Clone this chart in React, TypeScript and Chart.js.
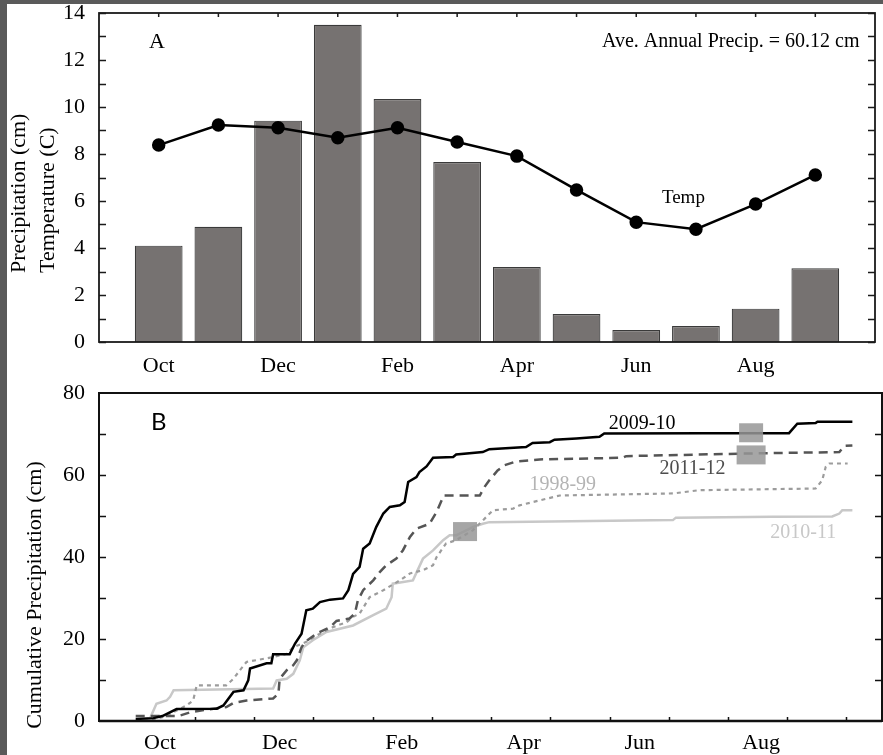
import React, { useEffect, useRef } from 'react';
import { Chart, registerables } from 'chart.js';
Chart.register(...registerables);

// ---------- Panel A data ----------
const months = ['Oct', 'Nov', 'Dec', 'Jan', 'Feb', 'Mar', 'Apr', 'May', 'Jun', 'Jul', 'Aug', 'Sep'];
const precipCm = [4.1, 4.9, 9.42, 13.5, 10.34, 7.66, 3.19, 1.19, 0.51, 0.68, 1.42, 3.14];
const tempC = [8.38, 9.23, 9.12, 8.69, 9.12, 8.51, 7.91, 6.47, 5.1, 4.8, 5.87, 7.11];
const tickLabelsA = ['Oct', 'Dec', 'Feb', 'Apr', 'Jun', 'Aug'];
const tickPosA = [1, 3, 5, 7, 9, 11];
const yTicksA = [0, 2, 4, 6, 8, 10, 12, 14];

// ---------- Panel B data (x = months since Oct 1) ----------
const tickLabelsB = ['Oct', 'Dec', 'Feb', 'Apr', 'Jun', 'Aug'];
const tickPosB = [0.41, 2.43, 4.49, 6.55, 8.51, 10.56];
const monthBoundsB = [1, 2, 3, 4, 5, 6, 7, 8, 9, 10, 11, 12];
const yTicksB = [0, 20, 40, 60, 80];

const s0910x = [0, 0.3, 0.45, 0.69, 1.37, 1.48, 1.65, 1.82, 1.9, 1.93, 2.21, 2.29, 2.32, 2.6, 2.69, 2.8, 2.88, 2.99, 3.11, 3.28, 3.5, 3.59, 3.67, 3.78, 3.84, 3.95, 4.06, 4.18, 4.29, 4.46, 4.54, 4.6, 4.74, 4.79, 4.91, 5.02, 5.36, 5.41, 5.86, 5.97, 6.59, 6.7, 6.99, 7.07, 7.44, 7.83, 7.91, 9.57, 11.03, 11.17, 11.48, 11.51, 12.1];
const s0910y = [0.5, 0.7, 1.2, 2.9, 3.0, 3.8, 7.1, 7.5, 9.9, 12.8, 14.1, 14.1, 16.3, 16.3, 18.9, 21.3, 27.0, 27.4, 29.0, 29.6, 29.9, 31.9, 35.9, 37.6, 42.0, 43.3, 47.3, 50.6, 52.2, 52.6, 53.4, 58.3, 59.5, 60.7, 62.1, 64.2, 64.4, 65.0, 65.6, 66.3, 66.8, 67.8, 68.0, 68.6, 68.9, 69.3, 70.1, 70.2, 70.2, 72.5, 72.7, 73.0, 73.0];

const s1112x = [0, 0.72, 0.94, 1.31, 1.53, 1.65, 1.87, 2.32, 2.41, 2.43, 2.55, 2.66, 2.72, 2.8, 2.86, 3.05, 3.28, 3.39, 3.61, 3.7, 3.75, 3.84, 4.01, 4.12, 4.23, 4.4, 4.51, 4.63, 4.74, 4.96, 5.08, 5.2, 5.81, 5.89, 5.97, 6.11, 6.23, 6.42, 6.82, 8.22, 8.28, 10.19, 11.88, 11.96, 12.1];
const s1112y = [1.2, 1.2, 2.2, 3.0, 3.4, 4.4, 5.0, 5.5, 6.7, 10.3, 12.4, 13.6, 14.8, 18.0, 19.3, 21.3, 22.9, 24.4, 25.0, 26.2, 29.4, 31.9, 34.3, 36.3, 38.0, 39.6, 41.6, 44.9, 46.9, 48.1, 51.0, 55.0, 55.0, 57.1, 58.7, 61.1, 62.4, 63.3, 63.8, 64.2, 64.6, 65.2, 65.6, 67.1, 67.2];

const s9899x = [0, 0.24, 0.47, 0.64, 0.86, 0.97, 1.03, 1.53, 1.65, 1.76, 1.87, 2.1, 2.32, 2.55, 2.66, 2.88, 3.11, 3.33, 3.56, 3.67, 3.78, 3.95, 4.18, 4.46, 4.63, 4.85, 5.02, 5.08, 5.24, 5.41, 5.69, 5.86, 6.03, 6.37, 6.48, 6.93, 7.16, 9.07, 9.52, 11.48, 11.59, 11.65, 11.71, 12.02];
const s9899y = [0, 0.2, 1.0, 2.2, 3.8, 5.0, 8.7, 8.7, 10.3, 12.4, 14.4, 15.0, 15.6, 16.4, 18.0, 19.3, 21.3, 22.9, 24.1, 25.4, 26.2, 30.2, 31.9, 34.3, 36.0, 36.8, 38.0, 40.0, 43.3, 44.1, 46.5, 48.9, 51.4, 51.8, 52.6, 54.2, 55.0, 55.5, 56.3, 56.7, 58.7, 62.0, 62.8, 62.8];

const s1011x = [0, 0.24, 0.35, 0.52, 0.58, 0.64, 2.32, 2.38, 2.55, 2.66, 2.77, 2.83, 2.99, 3.22, 3.67, 4.01, 4.23, 4.32, 4.34, 4.68, 4.85, 5.02, 5.19, 5.3, 5.41, 5.69, 5.86, 5.97, 9.07, 9.12, 10.75, 11.76, 11.88, 11.93, 12.1];
const s1011y = [0.2, 0.6, 4.2, 5.0, 5.9, 7.5, 7.9, 9.9, 10.3, 11.5, 14.8, 18.0, 19.7, 21.7, 23.3, 25.8, 27.4, 30.2, 33.5, 34.3, 39.6, 41.6, 44.1, 45.3, 45.3, 47.3, 48.1, 48.5, 49.0, 49.6, 49.8, 49.9, 50.6, 51.4, 51.4];

const seriesNames = ['2009-10', '2011-12', '1998-99', '2010-11'];
const seriesLabelX = [8.55, 9.4, 7.21, 11.27];
const seriesLabelY = [72.5, 61.6, 57.7, 45.8];
const markerX = [10.39, 10.39, 5.56];
const markerY = [70.3, 64.9, 46.2];

const SERIF = "'Liberation Serif', 'Times New Roman', serif";

const zip = (xs: number[], ys: number[]) => xs.map((x, i) => ({ x, y: ys[i] }));

const frameA = {
  id: 'frameA',
  afterDraw(chart: any) {
    const { ctx, chartArea: a, scales } = chart;
    const x = scales.x, y = scales.y;
    ctx.save();
    ctx.strokeStyle = '#1a1a1a';
    ctx.lineWidth = 1.5;
    ctx.beginPath();
    for (let v = 0; v <= 14; v++) {
      const py = Math.round(y.getPixelForValue(v)) + 0.5;
      ctx.moveTo(a.left, py); ctx.lineTo(a.left + 7, py);
      ctx.moveTo(a.right - 7, py); ctx.lineTo(a.right, py);
    }
    for (let i = 1; i <= 12; i++) {
      const px = x.getPixelForValue(i);
      ctx.moveTo(px, a.top); ctx.lineTo(px, a.top + 4);
    }
    ctx.stroke();
    ctx.lineWidth = 1.8;
    ctx.strokeRect(a.left, a.top, a.right - a.left, a.bottom - a.top);
    ctx.fillStyle = '#000';
    ctx.textBaseline = 'middle';
    ctx.font = `22px ${SERIF}`;
    ctx.textAlign = 'center';
    ctx.fillText('A', x.getPixelForValue(0.97), y.getPixelForValue(12.74));
    ctx.font = `19px ${SERIF}`;
    ctx.fillText('Temp', x.getPixelForValue(9.79), y.getPixelForValue(6.11));
    ctx.font = `20px ${SERIF}`;
    ctx.textAlign = 'right';
    ctx.fillText('Ave. Annual Precip. = 60.12 cm', x.getPixelForValue(12.74), y.getPixelForValue(12.78));
    // axis titles
    ctx.font = `22px ${SERIF}`;
    ctx.textAlign = 'left';
    const titles = ['Precipitation (cm)', 'Temperature (C)'];
    const tx = [12, 41];
    titles.forEach((t, i) => {
      ctx.save();
      ctx.translate(tx[i], a.bottom - 69);
      ctx.rotate(-Math.PI / 2);
      ctx.fillText(t, 0, 0);
      ctx.restore();
    });
    ctx.restore();
  },
};

const frameB = {
  id: 'frameB',
  afterDraw(chart: any) {
    const { ctx, chartArea: a, scales } = chart;
    const x = scales.x, y = scales.y;
    ctx.save();
    // markers
    ctx.fillStyle = 'rgba(150,150,150,0.85)';
    const mw = [24, 29, 24];
    markerX.forEach((mx, i) => {
      const px = x.getPixelForValue(mx), py = y.getPixelForValue(markerY[i]);
      ctx.fillRect(px - mw[i] / 2, py - 9.5, mw[i], 19);
    });
    ctx.strokeStyle = '#111';
    ctx.lineWidth = 1.5;
    ctx.beginPath();
    for (let v = 10; v < 80; v += 10) {
      const py = Math.round(y.getPixelForValue(v)) + 0.5;
      ctx.moveTo(a.left, py); ctx.lineTo(a.left + 7, py);
      ctx.moveTo(a.right - 7, py); ctx.lineTo(a.right, py);
    }
    monthBoundsB.forEach((m) => {
      const px = Math.round(x.getPixelForValue(m)) + 0.5;
      ctx.moveTo(px, a.bottom); ctx.lineTo(px, a.bottom - 4);
    });
    ctx.stroke();
    ctx.lineWidth = 2;
    ctx.strokeRect(a.left, a.top, a.right - a.left, a.bottom - a.top);
    ctx.lineWidth = 2.5;
    ctx.beginPath();
    ctx.moveTo(a.left, a.bottom); ctx.lineTo(a.right, a.bottom);
    ctx.stroke();
    // series labels
    ctx.textBaseline = 'middle';
    ctx.textAlign = 'center';
    ctx.font = `20px ${SERIF}`;
    const labelColors = ['#000000', '#4d4d4d', '#b4b4b4', '#c8c8c8'];
    seriesNames.forEach((n, i) => {
      ctx.fillStyle = labelColors[i];
      ctx.fillText(n, x.getPixelForValue(seriesLabelX[i]), y.getPixelForValue(seriesLabelY[i]));
    });
    ctx.fillStyle = '#000';
    ctx.font = "24px Lato, 'Liberation Sans', sans-serif";
    ctx.fillText('B', x.getPixelForValue(0.39), y.getPixelForValue(72.9));
    // axis title
    ctx.font = `22px ${SERIF}`;
    ctx.save();
    ctx.translate(28, 215);
    ctx.rotate(-Math.PI / 2);
    ctx.fillText('Cumulative Precipitation (cm)', 0, 0);
    ctx.restore();
    ctx.restore();
  },
};

const tickFont = { family: SERIF, size: 22 };

const fitY = (s: any) => { s.width = 92; s.paddingTop = 0; s.paddingBottom = 0; };

function makeConfigA(): any {
  return {
    type: 'bar',
    data: {
      labels: months,
      datasets: [
        {
          type: 'line',
          label: 'Temp',
          data: zip(tempC.map((_, i) => i + 1), tempC),
          borderColor: '#000',
          borderWidth: 2.5,
          pointRadius: 5.5,
          pointBackgroundColor: '#000',
          pointBorderColor: '#000',
          tension: 0,
          order: 0,
        },
        {
          type: 'bar',
          label: 'Precip',
          data: zip(precipCm.map((_, i) => i + 1), precipCm),
          backgroundColor: '#767271',
          borderColor: '#3a3a3a',
          borderWidth: 1.2,
          barPercentage: 0.8,
          categoryPercentage: 1,
          order: 1,
        },
      ],
    },
    options: {
      responsive: false,
      animation: false,
      devicePixelRatio: 1,
      layout: { padding: { top: 9, right: 1, left: 0, bottom: 0 } },
      plugins: { legend: { display: false }, tooltip: { enabled: false } },
      scales: {
        x: {
          type: 'linear',
          offset: false,
          min: 0,
          max: 13,
          grid: { display: false, drawTicks: false, offset: false },
          border: { display: false },
          afterBuildTicks: (s: any) => { s.ticks = tickPosA.map((v) => ({ value: v })); },
          afterFit: (s: any) => { s.height = 38; s.paddingLeft = 0; s.paddingRight = 0; },
          ticks: {
            autoSkip: false,
            maxRotation: 0,
            padding: 11,
            color: '#000',
            font: tickFont,
            callback: (v: number) => tickLabelsA[tickPosA.indexOf(v)] ?? '',
          },
        },
        y: {
          min: 0,
          max: 14,
          grid: { display: false, drawTicks: false },
          border: { display: false },
          afterBuildTicks: (s: any) => { s.ticks = yTicksA.map((v) => ({ value: v })); },
          afterFit: fitY,
          ticks: { padding: 14, color: '#000', font: tickFont },
        },
      },
    },
    plugins: [frameA],
  };
}

function makeConfigB(): any {
  return {
    type: 'line',
    data: {
      datasets: [
        { label: '2009-10', data: zip(s0910x, s0910y), borderColor: '#000', borderWidth: 2.5 },
        { label: '2011-12', data: zip(s1112x, s1112y), borderColor: '#555', borderWidth: 2.5, borderDash: [9, 6] },
        { label: '1998-99', data: zip(s9899x, s9899y), borderColor: '#9c9c9c', borderWidth: 2.2, borderDash: [4, 4] },
        { label: '2010-11', data: zip(s1011x, s1011y), borderColor: '#c8c8c8', borderWidth: 2.5 },
      ].map((d) => ({ ...d, pointRadius: 0, tension: 0, fill: false })),
    },
    options: {
      responsive: false,
      animation: false,
      devicePixelRatio: 1,
      layout: { padding: { top: 13, right: 1, left: 0, bottom: 0 } },
      plugins: { legend: { display: false }, tooltip: { enabled: false } },
      scales: {
        x: {
          type: 'linear',
          min: -0.62,
          max: 12.6,
          grid: { display: false, drawTicks: false },
          border: { display: false },
          afterBuildTicks: (s: any) => { s.ticks = tickPosB.map((v) => ({ value: v })); },
          afterFit: (s: any) => { s.height = 34; s.paddingLeft = 0; s.paddingRight = 0; },
          ticks: {
            autoSkip: false,
            maxRotation: 0,
            padding: 9,
            color: '#000',
            font: tickFont,
            callback: (v: number) => tickLabelsB[tickPosB.indexOf(v)] ?? '',
          },
        },
        y: {
          min: 0,
          max: 80,
          grid: { display: false, drawTicks: false },
          border: { display: false },
          afterBuildTicks: (s: any) => { s.ticks = yTicksB.map((v) => ({ value: v })); },
          afterFit: fitY,
          ticks: { padding: 14, color: '#000', font: tickFont },
        },
      },
    },
    plugins: [frameB],
  };
}

export default function App() {
  const refA = useRef<HTMLCanvasElement>(null);
  const refB = useRef<HTMLCanvasElement>(null);
  useEffect(() => {
    const a = new Chart(refA.current as HTMLCanvasElement, makeConfigA());
    const b = new Chart(refB.current as HTMLCanvasElement, makeConfigB());
    return () => { a.destroy(); b.destroy(); };
  }, []);
  return (
    <div style={{ position: 'absolute', left: 0, top: 0, width: 883, height: 755, background: '#5a5a5a', overflow: 'hidden' }}>
      <div style={{ position: 'absolute', left: 7, top: 4, width: 876, height: 751, background: '#fff' }} />
      <canvas ref={refA} width={876} height={376} style={{ position: 'absolute', left: 7, top: 4 }} />
      <canvas ref={refB} width={876} height={375} style={{ position: 'absolute', left: 7, top: 380 }} />
    </div>
  );
}
